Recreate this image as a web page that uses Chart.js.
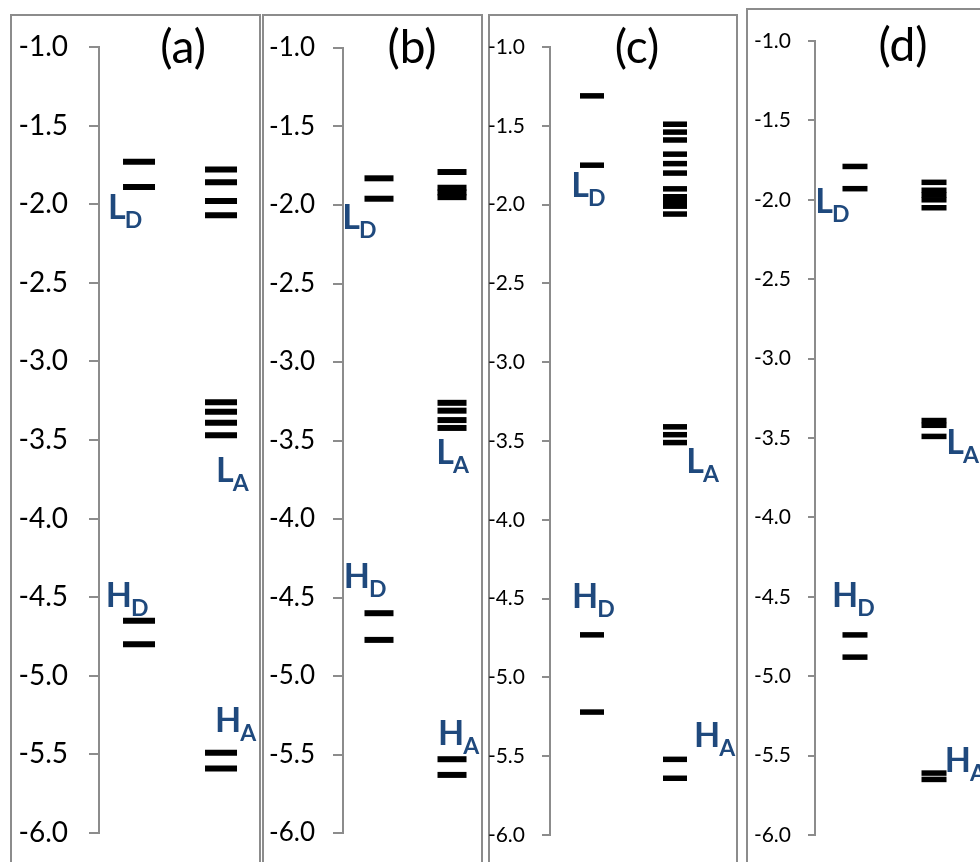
<!DOCTYPE html>
<html>
<head>
<meta charset="utf-8">
<script src="https://cdn.jsdelivr.net/npm/chart.js@4.4.1/dist/chart.umd.min.js"></script>
<style>
  html, body { margin: 0; padding: 0; background: #fff; width: 980px; height: 862px; overflow: hidden; position: relative; }
  .frame { position: absolute; border: 2px solid #8c8c8c; box-sizing: border-box; height: 900px; }
  canvas { position: absolute; top: 0; }
</style>
</head>
<body>
<div class="frame" style="left:10px; top:14px; width:251px;"></div>
<div class="frame" style="left:262px; top:14px; width:221px;"></div>
<div class="frame" style="left:488px; top:14px; width:250px;"></div>
<div class="frame" style="left:746px; top:8px; width:260px;"></div>

<canvas id="panelA" width="246" height="900" style="left:12px; width:246px; height:900px;"></canvas>
<canvas id="panelB" width="217" height="900" style="left:264px; width:217px; height:900px;"></canvas>
<canvas id="panelC" width="254" height="900" style="left:482px; width:254px; height:900px;"></canvas>
<canvas id="panelD" width="232" height="900" style="left:748px; width:232px; height:900px;"></canvas>

<script>
// Frontier orbital energies (eV): donor column and acceptor column per panel
const panelTitles = ['(a)', '(b)', '(c)', '(d)'];

const donorA    = [-1.73, -1.89, -4.65, -4.80];
const acceptorA = [-1.78, -1.86, -1.98, -2.07, -3.26, -3.32, -3.39, -3.47, -5.49, -5.59];

const donorB    = [-1.83, -1.96, -4.60, -4.77];
const acceptorB = [-1.79, -1.89, -1.92, -1.95, -3.26, -3.31, -3.37, -3.42, -5.53, -5.63];

const donorC    = [-1.31, -1.75, -4.73, -5.22];
const acceptorC = [-1.49, -1.54, -1.59, -1.68, -1.74, -1.80, -1.90, -1.95, -1.98, -2.01, -2.06,
                   -3.41, -3.46, -3.51, -5.52, -5.64];

const donorD    = [-1.79, -1.93, -4.74, -4.88];
const acceptorD = [-1.89, -1.94, -1.97, -2.00, -2.05, -3.39, -3.42, -3.49, -5.61, -5.65];

// Level names: main letter + subscript (LUMO/HOMO of donor/acceptor)
const levelNames = [['L', 'D'], ['L', 'A'], ['H', 'D'], ['H', 'A']];

// Energy axis range and tick step
const energyMin = -6.0;
const energyMax = -1.0;
const energyStep = 0.5;

const LABEL_BLUE = '#1F497D';
const AXIS_GREY = '#8c8c8c';
const CANVAS_H = 900;

// Draws the panel letter and the L/H level names with subscripts
const levelTextPlugin = {
  id: 'levelText',
  afterDraw(chart, args, opts) {
    const ctx = chart.ctx;
    const xs = chart.scales.x, ys = chart.scales.y;
    ctx.save();
    ctx.fillStyle = '#000';
    ctx.font = '46px Lato';
    ctx.textAlign = 'center';
    ctx.textBaseline = 'alphabetic';
    ctx.fillText(opts.title, xs.getPixelForValue(opts.titleX), chart.chartArea.top + opts.titleDy);

    ctx.textAlign = 'left';
    ctx.fillStyle = LABEL_BLUE;
    opts.labels.forEach((lab, i) => {
      const [main, sub] = levelNames[i];
      const px = xs.getPixelForValue(lab[0]);
      const py = ys.getPixelForValue(lab[1]);
      ctx.font = 'bold 34px Lato';
      ctx.fillText(main, px, py);
      const w = ctx.measureText(main).width;
      ctx.font = 'bold 23px Lato';
      ctx.fillText(sub, px + w - 1, py + 9);
    });
    ctx.restore();
  }
};

function levelChart(id, title, donor, acceptor, lay) {
  return new Chart(document.getElementById(id), {
    type: 'scatter',
    data: {
      datasets: [
        { label: 'Donor', data: donor.map(v => ({ x: 1, y: v })) },
        { label: 'Acceptor', data: acceptor.map(v => ({ x: 2, y: v })) }
      ]
    },
    options: {
      responsive: false,
      animation: false,
      events: [],
      layout: {
        autoPadding: false,
        padding: { top: lay.axisTop, bottom: CANVAS_H - lay.axisBottom, left: 0, right: 0 }
      },
      elements: {
        point: {
          pointStyle: 'line',
          radius: lay.halfWidth,
          borderWidth: lay.thick,
          borderColor: '#000',
          backgroundColor: '#000'
        }
      },
      plugins: {
        legend: { display: false },
        tooltip: { enabled: false },
        levelText: { title: title, titleX: lay.titleX, titleDy: lay.titleDy, labels: lay.labels }
      },
      scales: {
        x: { type: 'linear', display: false, min: lay.xMin, max: lay.xMax },
        y: {
          type: 'linear',
          min: energyMin,
          max: energyMax,
          afterFit: s => { s.width = lay.axisWidth; },
          border: { display: true, color: AXIS_GREY, width: 2 },
          grid: {
            display: true,
            drawOnChartArea: false,
            drawTicks: true,
            tickLength: lay.tickLen,
            color: AXIS_GREY,
            lineWidth: 2
          },
          ticks: {
            stepSize: energyStep,
            autoSkip: false,
            color: '#000',
            padding: lay.tickPad,
            font: { family: 'Lato', size: lay.tickSize },
            callback: v => Number(v).toFixed(1)
          }
        }
      }
    },
    plugins: [levelTextPlugin]
  });
}

levelChart('panelA', panelTitles[0], donorA, acceptorA, {
  axisTop: 47, axisBottom: 833, axisWidth: 87, xMin: 0.512, xMax: 2.451,
  halfWidth: 16, thick: 6, tickLen: 10, tickPad: 21, tickSize: 28,
  titleX: 1.537, titleDy: 16,
  labels: [[0.622, -2.094], [1.939, -3.765], [0.594, -4.562], [1.927, -5.356]]
});

levelChart('panelB', panelTitles[1], donorB, acceptorB, {
  axisTop: 48, axisBottom: 833, axisWidth: 79, xMin: 0.507, xMax: 2.397,
  halfWidth: 14.5, thick: 6, tickLen: 10, tickPad: 18, tickSize: 26,
  titleX: 1.452, titleDy: 15,
  labels: [[0.498, -2.150], [1.785, -3.651], [0.517, -4.440], [1.809, -5.440]]
});

levelChart('panelC', panelTitles[2], donorC, acceptorC, {
  axisTop: 47, axisBottom: 835, axisWidth: 68, xMin: 0.494, xMax: 2.735,
  halfWidth: 12, thick: 5.5, tickLen: 8, tickPad: 17, tickSize: 21,
  titleX: 1.542, titleDy: 16,
  labels: [[0.751, -1.951], [2.136, -3.701], [0.759, -4.559], [2.229, -5.443]]
});

levelChart('panelD', panelTitles[3], donorD, acceptorD, {
  axisTop: 41, axisBottom: 835, axisWidth: 67, xMin: 0.494, xMax: 2.582,
  halfWidth: 12.5, thick: 5.5, tickLen: 7, tickPad: 17, tickSize: 21,
  titleX: 1.608, titleDy: 20,
  labels: [[0.498, -2.080], [2.156, -3.601], [0.709, -4.562], [2.136, -5.604]]
});
</script>
</body>
</html>
